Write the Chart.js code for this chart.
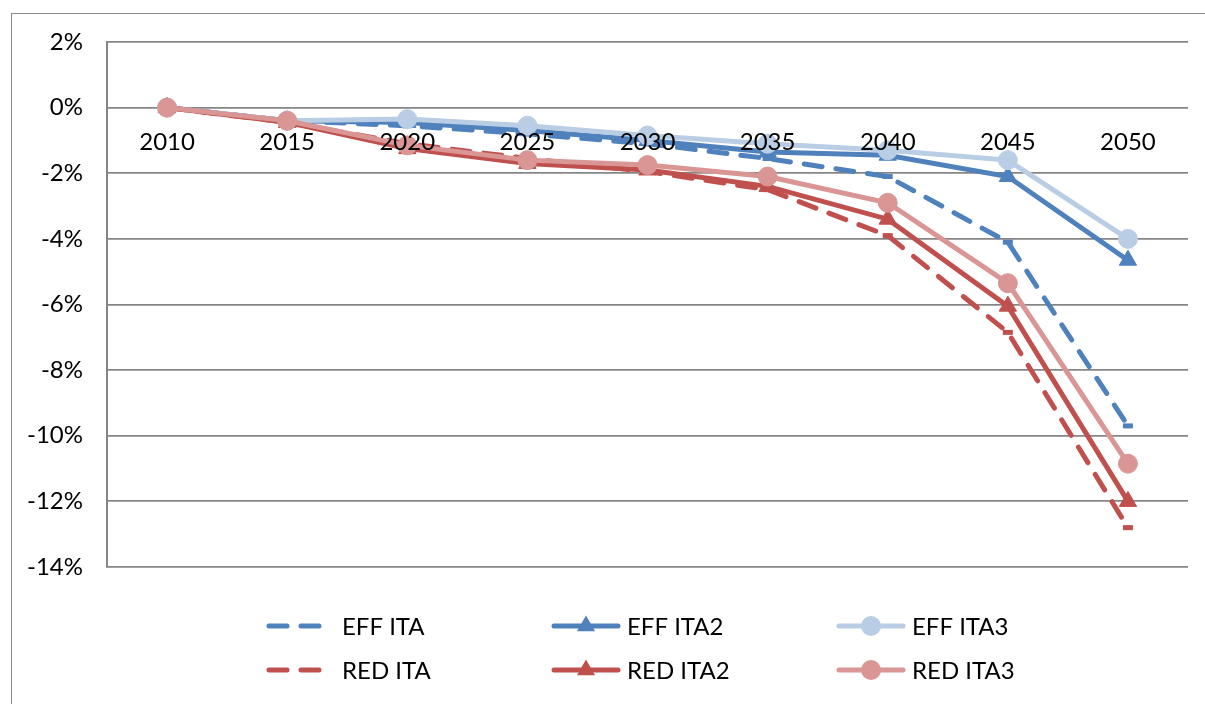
<!DOCTYPE html>
<html><head><meta charset="utf-8">
<script src="https://cdn.jsdelivr.net/npm/chart.js@4/dist/chart.umd.min.js"></script>
<style>
html,body{margin:0;padding:0;background:#fff;overflow:hidden;width:1205px;height:704px}
#frame{position:absolute;left:11px;top:13px;width:1300px;height:800px;border:1px solid #8c8c8c;}
canvas{position:absolute;left:0;top:0}
</style></head><body>
<div id="frame"></div>
<canvas id="c" width="1205" height="704"></canvas>
<script>
// ---- data ----
const categories = ['2010','2015','2020','2025','2030','2035','2040','2045','2050'];
const effIta  = [0, -0.4, -0.55, -0.8, -1.1, -1.55, -2.1, -4.1, -9.7];
const effIta2 = [0, -0.4, -0.45, -0.7, -1.0, -1.35, -1.45, -2.1, -4.65];
const effIta3 = [0, -0.4, -0.35, -0.55, -0.85, -1.1, -1.3, -1.6, -4.0];
const redIta  = [0, -0.45, -1.1, -1.55, -1.95, -2.5, -3.9, -6.85, -12.8];
const redIta2 = [0, -0.45, -1.25, -1.7, -1.9, -2.4, -3.4, -6.05, -12.0];
const redIta3 = [0, -0.4, -1.15, -1.6, -1.75, -2.1, -2.9, -5.35, -10.85];
const seriesLabels = ['EFF ITA','EFF ITA2','EFF ITA3','RED ITA','RED ITA2','RED ITA3'];
const yMin = -14, yMax = 2, yStep = 2;

const BLUE = '#4F81BD', LBLUE = '#B9CDE5', RED = '#C0504D', LRED = '#D99694';
const FONT = 'Lato, "Open Sans", sans-serif';
const DASH = [18, 14];

function ds(label, data, color, style, idx) {
  const base = {
    label, data, borderColor: color, backgroundColor: color,
    borderWidth: 5, tension: 0, order: 6 - idx,
    pointBorderColor: color, pointBackgroundColor: color
  };
  if (style === 'dash') {
    Object.assign(base, {borderDash: DASH, borderCapStyle: 'round',
      pointStyle: 'line', pointRadius: 5, pointBorderWidth: 5, pointHoverRadius: 5});
  } else if (style === 'triangle') {
    Object.assign(base, {pointStyle: 'triangle', pointRadius: 10, pointBorderWidth: 1, pointHoverRadius: 10});
  } else {
    Object.assign(base, {pointStyle: 'circle', pointRadius: 9.5, pointBorderWidth: 1, pointHoverRadius: 9.5});
  }
  base._style = style;
  return base;
}

const datasets = [
  ds(seriesLabels[0], effIta,  BLUE,  'dash', 0),
  ds(seriesLabels[1], effIta2, BLUE,  'triangle', 1),
  ds(seriesLabels[2], effIta3, LBLUE, 'circle', 2),
  ds(seriesLabels[3], redIta,  RED,   'dash', 3),
  ds(seriesLabels[4], redIta2, RED,   'triangle', 4),
  ds(seriesLabels[5], redIta3, LRED,  'circle', 5)
];

function marker(ctx, style, x, y, color) {
  ctx.save();
  ctx.fillStyle = color; ctx.strokeStyle = color; ctx.setLineDash([]);
  if (style === 'triangle') {
    const r = 10.5;
    ctx.beginPath();
    ctx.moveTo(x, y - r);
    ctx.lineTo(x + r * Math.sin(2*Math.PI/3), y - r * Math.cos(2*Math.PI/3));
    ctx.lineTo(x + r * Math.sin(4*Math.PI/3), y - r * Math.cos(4*Math.PI/3));
    ctx.closePath(); ctx.fill();
  } else if (style === 'circle') {
    ctx.beginPath(); ctx.arc(x, y, 10, 0, Math.PI*2); ctx.fill();
  } else {
    ctx.lineWidth = 5; ctx.beginPath(); ctx.moveTo(x - 5, y); ctx.lineTo(x + 5, y); ctx.stroke();
  }
  ctx.restore();
}

const legendPlugin = {
  id: 'excelLegend',
  afterDraw(chart) {
    const ctx = chart.ctx;
    const cols = [266, 551, 836], rows = [626, 670], len = 70;
    chart.data.datasets.forEach((d, i) => {
      const x = cols[i % 3], y = rows[Math.floor(i / 3)];
      ctx.save();
      ctx.strokeStyle = d.borderColor; ctx.lineWidth = d.borderWidth;
      ctx.lineCap = 'round';
      if (d._style === 'dash') ctx.setLineDash(DASH);
      ctx.beginPath(); ctx.moveTo(x + 3, y); ctx.lineTo(x + len - 3, y); ctx.stroke();
      ctx.restore();
      if (d._style !== 'dash') marker(ctx, d._style, x + len / 2, y, d.borderColor);
      ctx.save();
      ctx.fillStyle = '#000'; ctx.font = '24px ' + FONT;
      ctx.textBaseline = 'middle'; ctx.textAlign = 'left';
      ctx.fillText(d.label, x + 76, y + 1);
      ctx.restore();
    });
  }
};

new Chart(document.getElementById('c'), {
  type: 'line',
  data: {labels: categories, datasets},
  plugins: [legendPlugin],
  options: {
    responsive: false, animation: false,
    layout: {padding: {left: 0, top: 42, right: 17, bottom: 137}},
    plugins: {legend: {display: false}, tooltip: {enabled: false}},
    scales: {
      x: {
        position: {y: 0}, offset: true,
        grid: {display: false, drawTicks: false},
        border: {display: false},
        ticks: {z: 1, color: '#000', font: {family: FONT, size: 24}, padding: 20, maxRotation: 0}
      },
      y: {
        min: yMin, max: yMax,
        afterFit: s => { s.width = 107; },
        grid: {color: '#868686', lineWidth: 1.8, drawTicks: false},
        border: {display: true, color: '#868686', width: 2},
        ticks: {stepSize: yStep, color: '#000', font: {family: FONT, size: 24}, padding: 24,
          callback: v => v + '%'}
      }
    }
  }
});
</script>
</body></html>
